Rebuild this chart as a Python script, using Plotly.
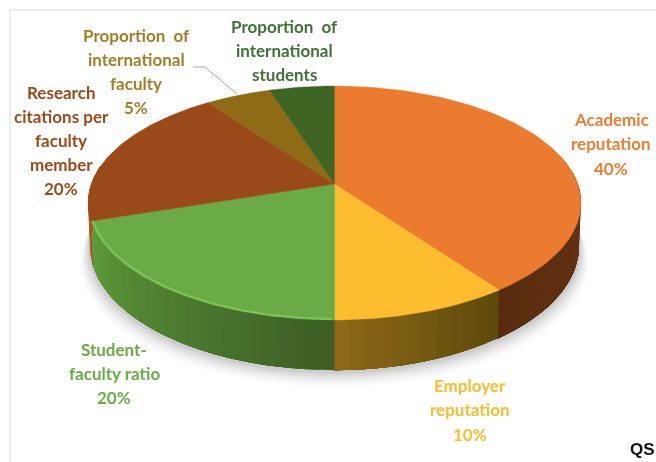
import numpy as np
import plotly.graph_objects as go

categories = ["Academic reputation", "Employer reputation", "Student-faculty ratio",
              "Research citations per faculty member", "Proportion of international faculty",
              "Proportion of international students"]
shares = [40, 10, 20, 20, 5, 5]
top_colors = ["#EB7B2F", "#FBBC2D", "#6AAB45", "#9A4918", "#8E6B14", "#3F6525"]
side_left = ["#5A2C0F", "#8C6818", "#5F9C3C", "#AC5420", "#8E6B14", "#3F6525"]
side_right = ["#6B3815", "#5E4B0B", "#3D5F24", "#AC5420", "#8E6B14", "#3F6525"]
label_colors = ["#ED7D31", "#FBBC2D", "#6AAB45", "#9C4A18", "#A07F25", "#41703A"]
label_lines = [
    ["Academic", "reputation", "40%"],
    ["Employer", "reputation", "10%"],
    ["Student-", "faculty ratio", "20%"],
    ["Research", "citations per", "faculty", "member", "20%"],
    ["Proportion\u00a0\u00a0of", "international", "faculty", "5%"],
    ["Proportion\u00a0\u00a0of", "international", "students"],
]
label_x = [611, 470, 114, 61, 136, 284]
label_y = [119, 385, 349, 92, 35, 26]
label_step = [24.5, 24.5, 24, 24, 24, 24]

CX, CY, A, B, K = 334.5, 184, 243.2, 113.9, 0.1624
DEPTH = 42


def proj(t):
    u, v = np.sin(t), np.cos(t)
    den = 1 + K * v
    return CX + A * u / den, CY - B * v / den


def low(t):
    u, v = np.sin(t), np.cos(t)
    den = 1 + K * v
    return CX + 0.992 * A * u / den, CY - B * v / den + DEPTH / den


def mix(c1, c2, f):
    a = [int(c1[i:i + 2], 16) for i in (1, 3, 5)]
    b = [int(c2[i:i + 2], 16) for i in (1, 3, 5)]
    return "rgb(%d,%d,%d)" % tuple(a[i] + (b[i] - a[i]) * f for i in range(3))


fig = go.Figure()


def poly(x, y, color, lw=0.0):
    fig.add_trace(go.Scatter(x=list(x), y=list(y), mode="lines", fill="toself", fillcolor=color,
                             line=dict(color=color, width=lw), hoverinfo="skip", showlegend=False))


# soft shadow under the pie
T = np.linspace(0, 2 * np.pi, 181)
for grow, alpha in [(15, 0.035), (12, 0.045), (9, 0.06), (6, 0.08), (3, 0.10)]:
    lx, ly = low(T)
    poly(CX + (lx - CX) * (1 + grow / 400), ly + grow + 1, "rgba(90,90,90,%.3f)" % alpha, 0)

edges = np.cumsum([0] + shares) / sum(shares) * 2 * np.pi

# side wall: each strip overlaps the next so no seams show
for i in range(len(shares)):
    a0, a1 = edges[i], edges[i + 1]
    a0v, a1v = max(a0, np.pi * 0.42), min(a1, np.pi * 1.55)
    if a1v <= a0v:
        continue
    n = max(2, int((a1v - a0v) / 0.05))
    g = np.linspace(a0v, a1v, n + 1)
    for j in range(n):
        s = np.linspace(g[j], a1v, max(3, (n - j) + 2))
        tx, ty = proj(s)
        bx, by = low(s[::-1])
        f = j / max(1, n - 1)
        poly(np.r_[tx, bx, tx[0]], np.r_[ty, by, ty[0]], mix(side_right[i], side_left[i], f))

# top face
for i in range(len(shares)):
    s = np.linspace(edges[i], edges[i + 1], 90)
    tx, ty = proj(s)
    poly(np.r_[CX, tx, CX], np.r_[CY, ty, CY], top_colors[i], 0.4)

# light rim of the green slice
s = np.linspace(edges[2] + 0.01, edges[3] - 0.01, 80)
rx, ry = proj(s)
fig.add_trace(go.Scatter(x=rx + (CX - rx) * 0.006, y=ry - 1, mode="lines",
                         line=dict(color="#7FC45A", width=2), hoverinfo="skip", showlegend=False))

# leader line
fig.add_trace(go.Scatter(x=[193, 205, 237], y=[67, 67, 94], mode="lines",
                         line=dict(color="#A6A6A6", width=1), hoverinfo="skip", showlegend=False))

ann = []
for lines, x, y, st, c in zip(label_lines, label_x, label_y, label_step, label_colors):
    for n, t in enumerate(lines):
        ann.append(dict(x=x, y=y + n * st, text="<b>%s</b>" % t, showarrow=False, xref="x", yref="y",
                        xanchor="center", yanchor="middle",
                        font=dict(family="Lato", size=17, color=c)))
ann.append(dict(x=642, y=449, text="<b>QS</b>", showarrow=False, xref="x", yref="y",
                xanchor="center", yanchor="middle",
                font=dict(family="Liberation Sans", size=17, color="#111111")))

shapes = [
    dict(type="line", x0=10, x1=656, y0=10, y1=10, xref="x", yref="y", line=dict(color="#E6E6E6", width=1.5)),
    dict(type="line", x0=10, x1=10, y0=10, y1=462, xref="x", yref="y", line=dict(color="#E6E6E6", width=1.5)),
]

fig.update_layout(width=656, height=462, margin=dict(l=0, r=0, t=0, b=0), paper_bgcolor="white",
                  plot_bgcolor="white", showlegend=False, annotations=ann, shapes=shapes,
                  xaxis=dict(range=[0, 656], visible=False, fixedrange=True),
                  yaxis=dict(range=[462, 0], visible=False, fixedrange=True))
fig.write_html("out.html",
               post_script="document.body.style.margin='0';document.body.style.overflow='hidden';"
                           "document.querySelector('.plotly-graph-div').style.filter='blur(0.6px)';",
               config=dict(displayModeBar=False))
